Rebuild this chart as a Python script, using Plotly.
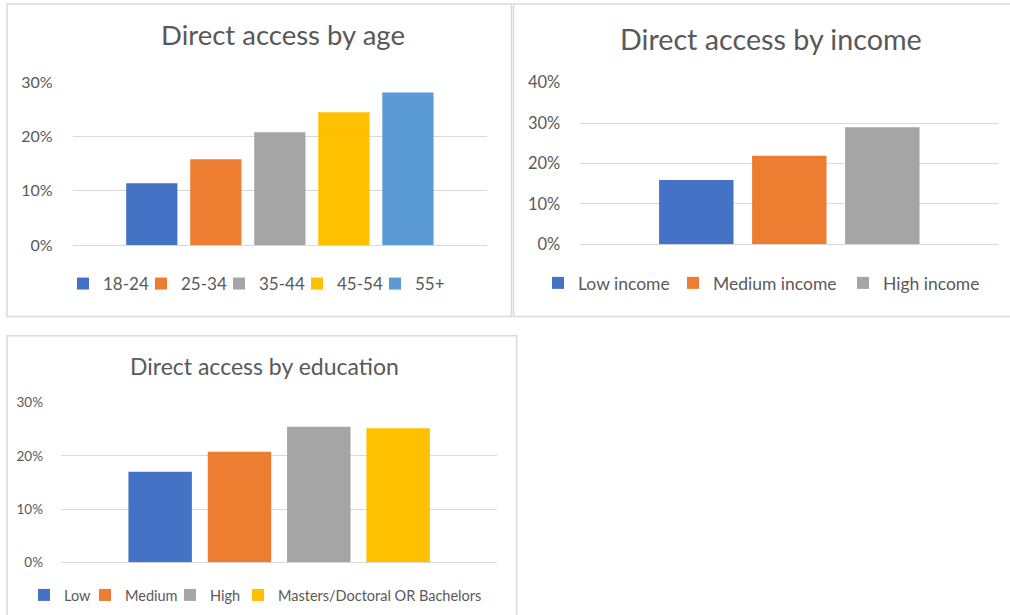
import plotly.graph_objects as go

# ---- data -------------------------------------------------------------
age_groups = ["18-24", "25-34", "35-44", "45-54", "55+"]
age_share = [0.114, 0.158, 0.208, 0.245, 0.281]

income_groups = ["Low income", "Medium income", "High income"]
income_share = [0.159, 0.219, 0.290]

edu_groups = ["Low", "Medium", "High", "Masters/Doctoral OR Bachelors"]
edu_share = [0.170, 0.208, 0.255, 0.252]

palette = ["#4472C4", "#ED7D31", "#A5A5A5", "#FFC000", "#5B9BD5"]

# legend entry widths (px of text slot) per chart, 0 = natural width
age_entry = [33, 33, 33, 33, 0]
income_entry = [90, 125, 0]
edu_entry = [16, 40, 23, 0]

# ---- layout helpers (pixel -> paper) ---------------------------------
W, H = 1010, 615
FONT = "Lato"
TXT = "#595959"
GRID = "#D9D9D9"


def fx(p):
    return p / W


def fy(p):
    return 1 - p / H


fig = go.Figure()

panels = [
    # groups, values, entry widths, axis suffix, legend id
    (age_groups, age_share, age_entry, "", "legend"),
    (income_groups, income_share, income_entry, "2", "legend2"),
    (edu_groups, edu_share, edu_entry, "3", "legend3"),
]

for groups, values, entries, ax, leg in panels:
    for i, (g, v, ew) in enumerate(zip(groups, values, entries)):
        fig.add_trace(
            go.Bar(
                x=["Direct access"],
                y=[v],
                name=g,
                marker=dict(color=palette[i], line=dict(width=0)),
                xaxis="x" + ax,
                yaxis="y" + ax,
                legend=leg,
                legendwidth=ew if ew else None,
                hovertemplate="%{fullData.name}: %{y:.0%}<extra></extra>",
            )
        )


def yaxis_style(top, size, standoff, domain, anchor):
    return dict(
        domain=domain,
        anchor=anchor,
        range=[0, top],
        dtick=0.1,
        tickformat=".0%",
        showgrid=True,
        gridcolor=GRID,
        gridwidth=1,
        zeroline=True,
        zerolinecolor=GRID,
        zerolinewidth=1,
        showline=False,
        ticks="",
        ticklabelstandoff=standoff,
        tickfont=dict(family=FONT, size=size, color=TXT),
        fixedrange=True,
    )


def xaxis_style(half, domain, anchor):
    return dict(
        domain=domain,
        anchor=anchor,
        type="category",
        range=[-half, half],
        showticklabels=False,
        showgrid=False,
        zeroline=False,
        showline=False,
        ticks="",
        fixedrange=True,
    )


def legend_style(x, y, size):
    return dict(
        orientation="h",
        x=x,
        y=y,
        xanchor="left",
        yanchor="middle",
        font=dict(family=FONT, size=size, color=TXT),
        bgcolor="rgba(0,0,0,0)",
        itemwidth=30,
        itemclick=False,
        itemdoubleclick=False,
    )


fig.update_layout(
    width=W,
    height=H,
    autosize=False,
    margin=dict(l=0, r=0, t=0, b=0, autoexpand=False),
    paper_bgcolor="white",
    plot_bgcolor="white",
    barmode="group",
    bargap=0.0,
    bargroupgap=0.2,
    xaxis=xaxis_style(0.647, [fx(72.7), fx(487)], "y"),
    yaxis=yaxis_style(0.3, 16, 19, [fy(245), fy(82.3)], "x"),
    xaxis2=xaxis_style(0.749, [fx(580.3), fx(998.3)], "y2"),
    yaxis2=yaxis_style(0.4, 16.5, 19, [fy(244.3), fy(82.7)], "x2"),
    xaxis3=xaxis_style(0.6875, [fx(61), fx(497.3)], "y3"),
    yaxis3=yaxis_style(0.3, 13.5, 17, [fy(562.3), fy(402.7)], "x3"),
    legend=legend_style(fx(63), fy(284), 17),
    legend2=legend_style(fx(538), fy(283), 17.5),
    legend3=legend_style(fx(24), fy(595), 14.5),
    showlegend=True,
)

# chart titles
titles = [
    ("Direct access by age", 283, 34, 27.5),
    ("Direct access by income", 770.5, 38.5, 28.7),
    ("Direct access by education", 264, 365.5, 23),
]
for text, cx, cy, size in titles:
    fig.add_annotation(
        text=text,
        x=fx(cx),
        y=fy(cy),
        xref="paper",
        yref="paper",
        xanchor="center",
        yanchor="middle",
        showarrow=False,
        font=dict(family=FONT, size=size, color=TXT),
    )

# chart-area frames
frames = [(7, 4, 511.5, 316.5), (513.5, 4, 1012, 316.5), (7, 335.7, 516.7, 620)]
for x0, y0, x1, y1 in frames:
    fig.add_shape(
        type="rect",
        xref="paper",
        yref="paper",
        x0=fx(x0),
        x1=fx(x1),
        y0=fy(y1),
        y1=fy(y0),
        line=dict(color=GRID, width=1.5),
        fillcolor="rgba(0,0,0,0)",
        layer="below",
    )

fig.write_html("out.html")
